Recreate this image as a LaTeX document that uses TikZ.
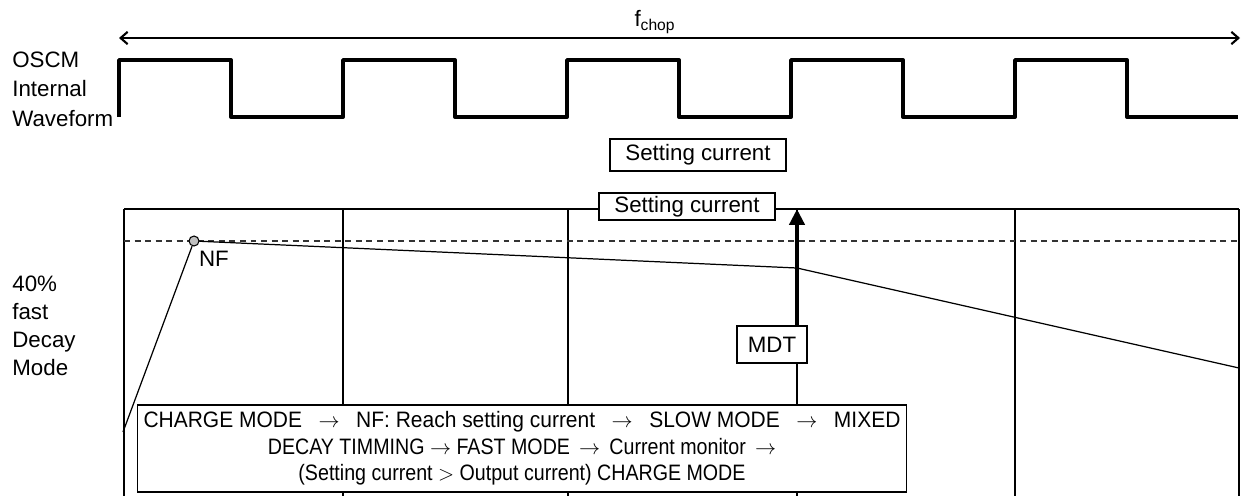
\documentclass[tikz,border=0pt]{standalone}
\usepackage{fontspec}
\setmainfont{Liberation Sans}
\newfontfamily\narrowfont[FakeStretch=0.88]{Liberation Sans}
\newfontfamily\flowfont[FakeStretch=0.94]{Liberation Sans}
\usetikzlibrary{arrows.meta}
\begin{document}
\begin{tikzpicture}
[x=0.02cm,y=-0.02cm,
  labeldecorate/.style={font=\fontsize{12.7}{14}\selectfont,inner sep=0pt},
  boxdecorate/.style={shape=rectangle,draw,fill=white,line width=0.6pt,
    font=\fontsize{12.7}{14}\selectfont,inner sep=0pt,minimum width=3.52cm},
  wavedecorate/.style={line width=2.2pt,line join=round},
  griddecorate/.style={line width=0.7pt},
  dashdecorate/.style={line width=0.7pt,dash pattern=on 3.4pt off 2.6pt,black!80},
  tracedecorate/.style={line width=0.7pt},
  chopdecorate/.style={line width=1.2pt,
    {Straight Barb[length=4pt,width=7pt]}-{Straight Barb[length=4pt,width=7pt]}},
  mdtdecorate/.style={line width=2.8pt,-{Triangle[length=9pt,width=8.5pt]}}]
\useasboundingbox (0,0) rectangle (1248,495);
%% chopping period
\coordinate (chopL) at (119,38);
\coordinate (chopR) at (1240,38);
\draw[chopdecorate] (chopL) -- (chopR);
\node (fchop) at (655,22) [labeldecorate] {f\textsubscript{chop}};
%% internal waveform
\draw[wavedecorate] (119,117)
  \foreach \x in {119,343,567,791,1015} {
    -- (\x,117) -- (\x,60) -- (\x+112,60) -- (\x+112,117)
  } -- (1238,117);
%% side labels
\foreach \nodename/\nodelabel/\y in {
  osc1/OSCM/67, osc2/Internal/96, osc3/Waveform/126,
  mode1/40\%/291, mode2/fast/319, mode3/Decay/347, mode4/Mode/375} {
  \node (\nodename) at (12,\y) [labeldecorate,anchor=base west] {\nodelabel};
}
%% grid
\draw[griddecorate] (124,209) -- (1239,209);
\foreach \x in {124,343,568,797,1015,1239} {
  \draw[griddecorate] (\x,209) -- (\x,496);
}
\draw[dashdecorate] (124,241) -- (1239,241);
%% output current
\node (nf) at (194,241) [shape=circle,draw,fill=black!25,line width=0.6pt,
  inner sep=0pt,minimum size=0.2cm] {};
\node (nflabel) at (214,259) [labeldecorate] {NF};
\coordinate (start) at (123,432);
\coordinate (mdtpoint) at (797,268);
\coordinate (finish) at (1239,368);
\draw[tracedecorate] (start) -- (nf) -- (mdtpoint) -- (finish);
%% setting current boxes
\node (setA) at (698,155) [boxdecorate,minimum height=0.64cm] {Setting current};
\node (setB) at (687,206.5) [boxdecorate,minimum height=0.54cm] {Setting current};
%% mixed decay timing
\coordinate (settop) at (797,209);
\node (mdt) at (772,344.5) [boxdecorate,minimum width=1.4cm,minimum height=0.74cm] {MDT};
\draw[mdtdecorate] (mdt.north -| settop) -- (settop);
%% sequence
\node (flow) at (522,448.5) [boxdecorate,minimum width=15.4cm,minimum height=1.74cm,
  align=center,font=\narrowfont\fontsize{12.7}{15}\selectfont]
  {\makebox[15.14cm]{\flowfont CHARGE MODE\hfill$\rightarrow$\hfill NF: Reach setting current\hfill$\rightarrow$\hfill SLOW MODE\hfill$\rightarrow$\hfill MIXED}\\
   DECAY TIMMING $\rightarrow$ FAST MODE \,$\rightarrow$\, Current monitor \,$\rightarrow$\\
   (Setting current $>$ Output current) CHARGE MODE};
\end{tikzpicture}
\end{document}
